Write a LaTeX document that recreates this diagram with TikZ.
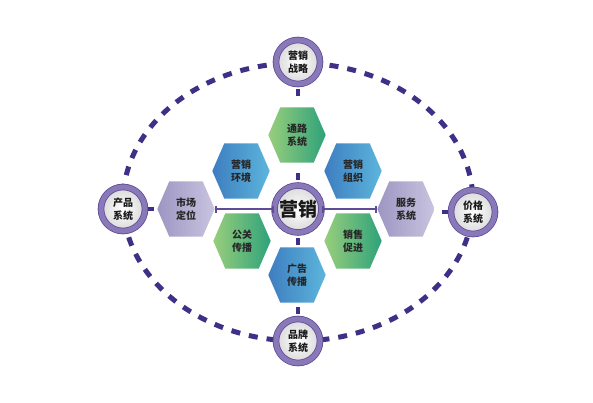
\documentclass[tikz,border=0pt]{standalone}
\usepackage{fontspec}
\newfontfamily\cjk{Noto Sans CJK SC}
\usetikzlibrary{shapes.geometric,arrows.meta}
\pgfdeclarelayer{background}
\pgfsetlayers{background,main}
\definecolor{dashpurple}{HTML}{3F2F86}
\definecolor{ringpurple}{HTML}{8A79B8}
\definecolor{ringdark}{HTML}{5E4C96}
\definecolor{blueA}{HTML}{3E7DC0}
\definecolor{blueB}{HTML}{5CB6DC}
\definecolor{greenA}{HTML}{98CE7C}
\definecolor{greenB}{HTML}{2EA27A}
\definecolor{lilacA}{HTML}{C9C4DF}
\definecolor{lilacB}{HTML}{9D96C3}
\tikzset{
  hexa/.style={rectangle, minimum width=57pt, minimum height=55pt,
    inner sep=0pt, align=center, text=black!85,
    font=\cjk\bfseries\fontsize{10}{13}\selectfont},
  ring/.style={circle, draw=ringdark, double=ringpurple, double distance=5pt,
    line width=0.8pt, inner color=white, outer color=black!15,
    minimum size=44pt, inner sep=0pt, align=center, text=black!90,
    font=\cjk\bfseries\fontsize{10}{13}\selectfont},
  stub/.style={draw=dashpurple, line width=4pt},
  link/.style={draw=ringdark, line width=2.5pt,
    {Bar[width=7pt,line width=2pt]}-{Bar[width=7pt,line width=2pt]}},
}
\begin{document}
\begin{tikzpicture}[x=1pt,y=-1pt]
    \useasboundingbox (0,0) rectangle (593,403);

    % outer circles
    \node[ring] (strategy) at (298,62) {营销\\战略};
    \node[ring] (brand) at (298,341) {品牌\\系统};
    \node[ring] (product) at (123,209) {产品\\系统};
    \node[ring] (price) at (473,212) {价格\\系统};

    % centre
    \node[ring, minimum size=47pt, font=\cjk\bfseries\fontsize{19}{19}\selectfont]
        (centre) at (298,209) {营销};

    % hexagons
    \node[hexa] (channel) at (297,135) {通路\\系统};
    \node[hexa] (env) at (241,171) {营销\\环境};
    \node[hexa] (org) at (353,171) {营销\\组织};
    \node[hexa] (pr) at (242,241) {公关\\传播};
    \node[hexa] (promo) at (353,241) {销售\\促进};
    \node[hexa] (ad) at (297,275) {广告\\传播};
    \node[hexa] (market) at (186,209) {市场\\定位};
    \node[hexa] (service) at (406,209) {服务\\系统};

    \begin{pgfonlayer}{background}
    % dashed orbit
    \draw[dashpurple, line width=5pt, dash pattern=on 9pt off 9pt]
        (298,202) ellipse [x radius=175, y radius=139];
    % hexagon faces
    \foreach \n/\ca/\cb in {channel/greenA/greenB, pr/greenA/greenB,
        promo/greenA/greenB, env/blueA/blueB, org/blueA/blueB,
        ad/blueA/blueB, market/lilacB/lilacA, service/lilacB/lilacA}
      \shade[left color=\ca, right color=\cb]
        (\n.west) -- ([xshift=12pt]\n.north west) -- ([xshift=-12pt]\n.north east)
        -- (\n.east) -- ([xshift=-12pt]\n.south east) -- ([xshift=12pt]\n.south west)
        -- cycle;
    \end{pgfonlayer}

    % connectors
    \draw[link] (centre.west) -- (market.east);
    \draw[link] (centre.east) -- (service.west);

    % stubs
    \draw[stub] (centre.north) ++(0,-5) -- ++(0,-7);
    \draw[stub] (centre.south) ++(0,5) -- ++(0,7);
    \draw[stub] (strategy.south) ++(0,5) -- ++(0,7);
    \draw[stub] (brand.north) ++(0,-5) -- ++(0,-7);
    \draw[stub] (product.east) ++(3,0) -- ++(6,0);
    \draw[stub] (price.west) ++(-3,0) -- ++(-6,0);
\end{tikzpicture}
\end{document}
